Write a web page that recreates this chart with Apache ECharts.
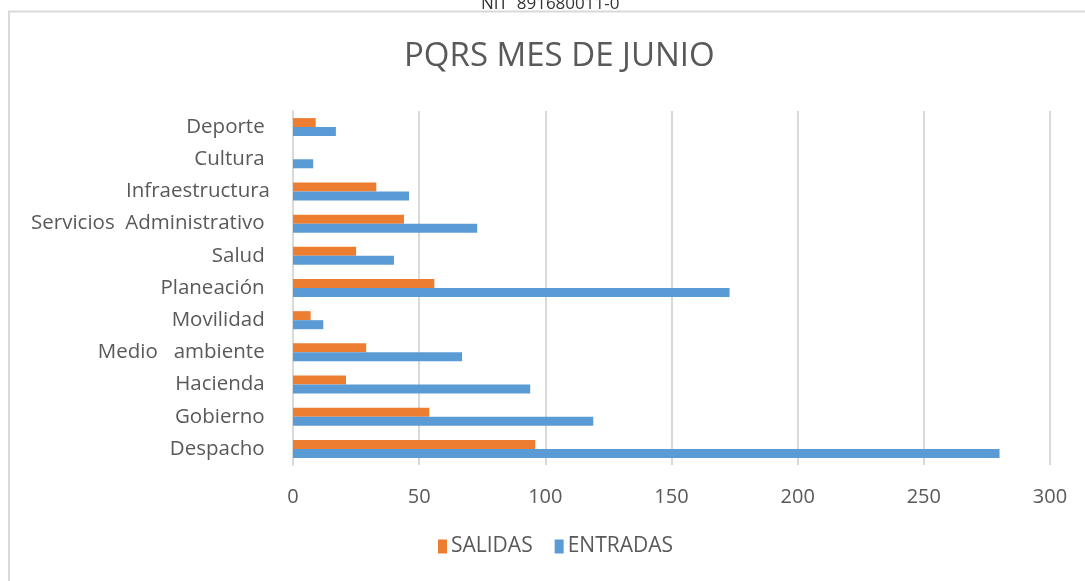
<!DOCTYPE html>
<html>
<head>
<meta charset="utf-8">
<script src="https://cdn.jsdelivr.net/npm/echarts@6/dist/echarts.min.js"></script>
<style>
  html, body { margin: 0; padding: 0; background: #fff; }
  #pqrs { width: 1085px; height: 581px; }
</style>
</head>
<body>
<div id="pqrs"></div>
<script>
// categorias, de abajo hacia arriba
var areas = ['Despacho ', 'Gobierno ', 'Hacienda ', 'Medio   ambiente ', 'Movilidad ',
    'Planeación ', 'Salud ', 'Servicios  Administrativo ', 'Infraestructura', 'Cultura ', 'Deporte '];
var salidas = [96, 54, 21, 29, 7, 56, 25, 44, 33, 0, 9];
var entradas = [280, 119, 94, 67, 12, 173, 40, 73, 46, 8, 17];
var ticks_x = [0, 50, 100, 150, 200, 250, 300];

var txt = '#595959';
var fuente = 'Open Sans';

var pqrs_chart = echarts.init(document.getElementById('pqrs'));

var pqrs_option = {
    backgroundColor: '#fff',
    textStyle: { fontFamily: fuente },
    title: {
        text: 'PQRS MES DE JUNIO',
        left: 399,
        top: 35,
        textStyle: { color: txt, fontSize: 33, fontWeight: 'normal', fontFamily: fuente }
    },
    graphic: [
        {
            type: 'text',
            left: 481,
            top: -4,
            style: { text: 'NIT  891680011-0', fill: '#333', font: '17px "Open Sans"' }
        },
        {
            type: 'rect',
            shape: { x: 0, y: 12, width: 1085, height: 10 },
            style: { fill: '#fff' }
        },
        {
            type: 'polyline',
            shape: { points: [[9, 581], [9, 11.5], [1085, 11.5]] },
            style: { stroke: '#d9d9d9', lineWidth: 2, fill: null }
        }
    ],
    legend: {
        data: ['SALIDAS', 'ENTRADAS'],
        bottom: 19,
        left: 433,
        icon: 'rect',
        itemWidth: 9,
        itemHeight: 14,
        itemGap: 22,
        textStyle: { color: txt, fontSize: 21, padding: [0, 0, 0, -1] }
    },
    grid: {
        left: 293,
        right: 35,
        top: 111,
        bottom: 116
    },
    xAxis: {
        type: 'value',
        min: ticks_x[0],
        max: ticks_x[ticks_x.length - 1],
        interval: 50,
        axisLine: { show: false },
        axisTick: { show: false },
        splitLine: { lineStyle: { color: '#d9d9d9', width: 2 } },
        axisLabel: { color: txt, fontSize: 20, margin: 22 }
    },
    yAxis: {
        type: 'category',
        data: areas,
        axisLine: { show: true, lineStyle: { color: '#d9d9d9', width: 2 } },
        axisTick: { show: false },
        axisLabel: { color: txt, fontSize: 20.5, margin: 23 }
    },
    series: [
        {
            name: 'SALIDAS',
            type: 'bar',
            data: salidas,
            barWidth: 9,
            barGap: '0%',
            itemStyle: { color: '#ed7d31' }
        },
        {
            name: 'ENTRADAS',
            type: 'bar',
            data: entradas,
            barWidth: 9,
            barGap: '0%',
            itemStyle: { color: '#5b9bd5' }
        }
    ]
};

pqrs_chart.setOption(pqrs_option);
</script>
</body>
</html>
